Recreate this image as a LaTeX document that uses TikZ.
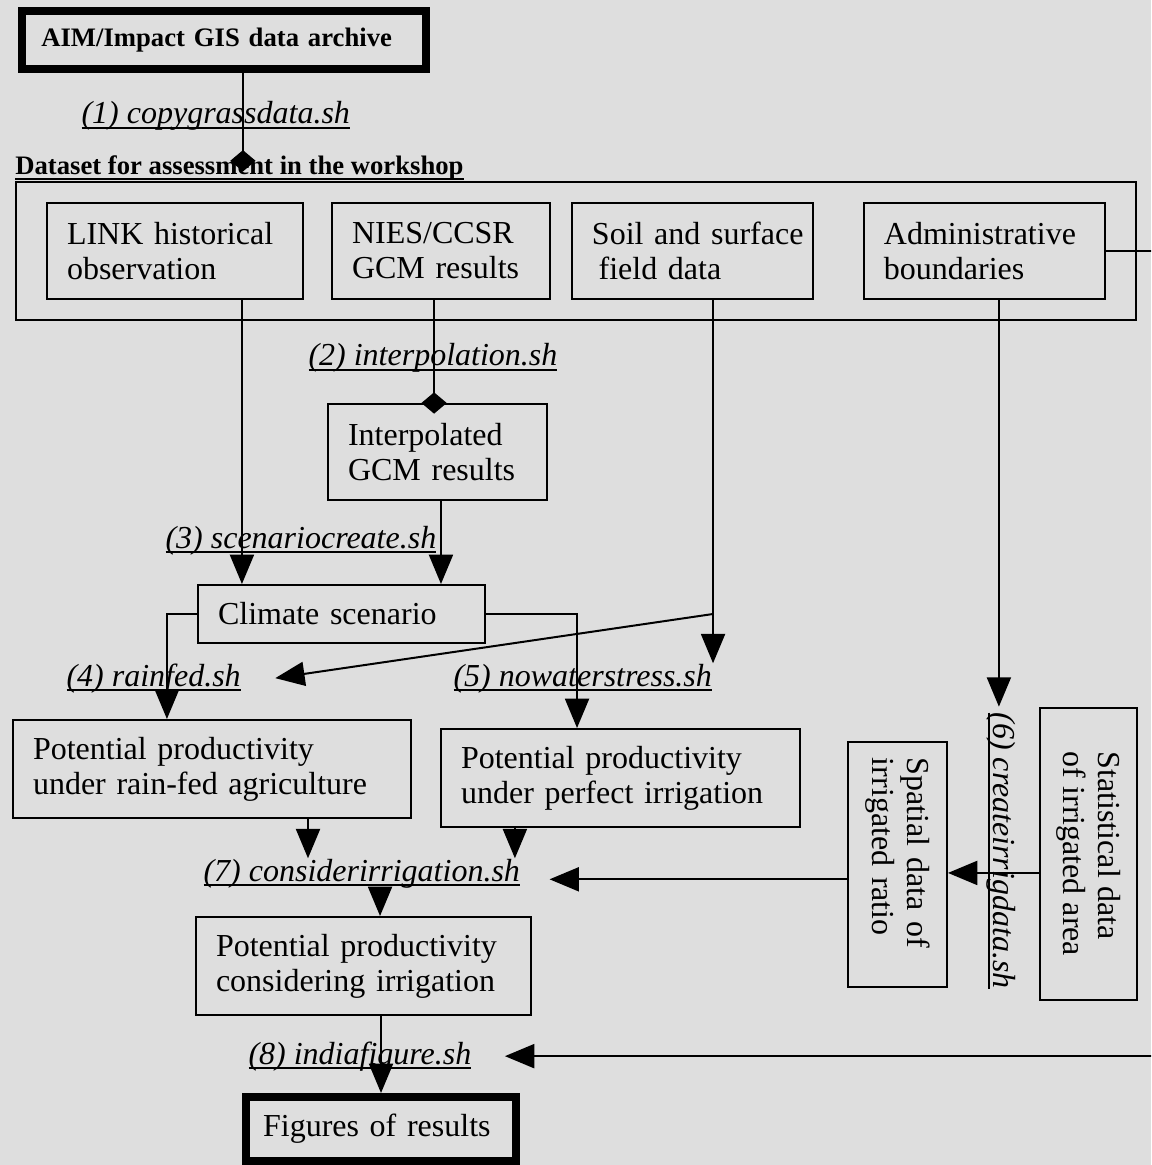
\documentclass[tikz,border=0pt]{standalone}
\usepackage{fontspec}
\setmainfont{Liberation Serif}
\usetikzlibrary{arrows.meta, positioning, fit}
\definecolor{paper}{HTML}{DEDEDE}
\newcommand{\ulname}[1]{\setbox0\hbox{#1}\rlap{\rule[-2pt]{\wd0}{0.75pt}}\box0}

\begin{document}
\begin{tikzpicture}[
    x=0.375pt, y=-0.375pt,
    font=\fontsize{12}{13.1}\selectfont,
    databox/.style={draw, line width=0.75pt, align=left, inner xsep=7.5pt, inner ysep=0pt},
    titlebox/.style={draw, line width=3pt, align=left, inner ysep=0pt},
    shlabel/.style={font=\fontsize{12}{13.1}\selectfont\itshape, inner sep=0pt, anchor=base west},
    arrow/.style={-{Triangle[length=11pt, width=9pt]}, line width=0.75pt},
    link/.style={-{Diamond[length=8pt, width=9.5pt]}, line width=0.75pt, shorten >=-4pt}
  ]
    \useasboundingbox (0,0) rectangle (1151,1165);
    \clip (0,0) rectangle (1151,1165);
    \fill[paper] (0,0) rectangle (1151,1165);

    \node[titlebox, minimum width=151.5pt, minimum height=21.75pt, text width=137pt, inner xsep=7.25pt, font=\fontsize{10}{12}\selectfont\bfseries] (archive) at (224,40) {AIM/Impact GIS data archive};

    \node[databox, minimum width=96pt, minimum height=36pt, text width=81pt] (link) at (175,251) {LINK historical\\observation};
    \node[databox, minimum width=81.75pt, minimum height=36pt, text width=66.75pt] (nies) at (441,251) {NIES/CCSR\\GCM results};
    \node[databox, minimum width=90.4pt, minimum height=36pt, text width=75.4pt] (soil) at (692.5,251) {\mbox{Soil and surface}\\\hspace*{2.5pt}field data};
    \node[databox, minimum width=90.4pt, minimum height=36pt, text width=75.4pt] (admin) at (984.5,251) {Administrative\\boundaries};
    \node[draw, line width=0.75pt, inner xsep=11.3pt, inner ysep=7.5pt, fit=(link)(admin)] (dataset) {};
    \node[above right=0pt and 0pt of dataset.north west, inner sep=0pt, font=\fontsize{10}{12}\selectfont\bfseries] (datasetlbl) {\ulname{Dataset for assessment in the workshop}};

    \node[databox, minimum width=82.1pt, minimum height=36pt, text width=67.1pt] (interp) at (437.5,452) {Interpolated\\GCM results};
    \node[databox, minimum width=107.6pt, minimum height=21.75pt, text width=92.6pt] (climate) at (341.5,614) {Climate scenario};
    \node[databox, minimum width=149.25pt, minimum height=36.75pt, text width=134.25pt] (rain) at (212,769) {Potential productivity\\under rain-fed agriculture};
    \node[databox, minimum width=134.6pt, minimum height=36.75pt, text width=119.6pt] (perfect) at (620.5,778) {Potential productivity\\under perfect irrigation};
    \node[databox, minimum width=125.6pt, minimum height=36.75pt, text width=110.6pt] (consider) at (363.5,966) {Potential productivity\\considering irrigation};
    \node[titlebox, minimum width=101.25pt, minimum height=24pt, text width=88.45pt, inner xsep=6.4pt] (figures) at (381,1129) {Figures of results};

    \node[databox, rotate=-90, minimum width=109.5pt, minimum height=36.4pt, inner xsep=0pt] (stat) at (1088.5,854) {Statistical data\\of irrigated area};
    \node[databox, rotate=-90, minimum width=91.9pt, minimum height=37.1pt, text width=79.9pt, inner xsep=6pt] (spatial) at (897.5,864.5) {Spatial data of\\irrigated ratio};

    % script names
    \node[shlabel] (copysh) at (81,124) {\ulname{(1) copygrassdata.sh}};
    \node[shlabel] (interpsh) at (308,366) {\ulname{(2) interpolation.sh}};
    \node[shlabel] (scensh) at (165,548) {\ulname{(3) scenariocreate.sh}};
    \node[shlabel] (rainsh) at (66,686) {\ulname{(4) rainfed.sh}};
    \node[shlabel] (nowatersh) at (453,686) {\ulname{(5) nowaterstress.sh}};
    \node[shlabel, rotate=-90] (irrigsh) at (993,712) {\ulname{(6) createirrigdata.sh}};
    \node[shlabel] (considersh) at (203,881) {\ulname{(7) considerirrigation.sh}};
    \node[shlabel] (indiash) at (248,1064) {\ulname{(8) indiafigure.sh}};

    \coordinate (in4) at ([xshift=12.75pt]rainsh.east);
    \coordinate (in7) at ([xshift=10.9pt, yshift=-2.25pt]considersh.east);
    \coordinate (in8) at ([xshift=12.4pt]indiash.east);
    \coordinate (s6) at ([yshift=-7.1pt]stat.south);

    \draw[link, shorten >=-6pt] ([xshift=7.1pt]archive.south) -- ([xshift=7.1pt]archive.south |- datasetlbl.north);
    \draw[link] ([xshift=-2.6pt]nies.south) -- ([xshift=-2.6pt]nies.south |- interp.north);

    \draw[arrow] ([xshift=25.1pt]link.south) -- ([xshift=25.1pt]link.south |- climate.north);
    \draw[arrow] ([xshift=1.3pt]interp.south) -- ([xshift=1.3pt]interp.south |- climate.north);
    \draw[arrow] (climate.west) -| ([xshift=-16.9pt]rain.north);
    \draw[arrow] (climate.east) -| ([xshift=-16.3pt]perfect.north);
    \draw[arrow] ([xshift=7.7pt]soil.south) -- ([xshift=7.7pt]soil.south |- nowatersh.north);
    \draw[arrow] ([xshift=7.7pt]soil.south |- climate.east) -- (in4);
    \draw[arrow] ([xshift=36pt]rain.south) -- ([xshift=36pt]rain.south |- considersh.north);
    \draw[arrow] ([xshift=-39.6pt]perfect.south) -- ([xshift=-39.6pt]perfect.south |- considersh.north);
    \draw[arrow] ([xshift=6.2pt]consider.north |- considersh.south) -- ([xshift=6.2pt]consider.north);
    \draw[arrow] (figures.north |- consider.south) -- (figures.north);
    \draw[arrow, shorten >=2pt] ([xshift=5.4pt]admin.south) -- ([xshift=5.4pt]admin.south |- irrigsh.west);
    \draw[arrow] (s6) -- (s6 -| spatial.north);
    \draw[arrow] (spatial.south |- in7) -- (in7);
    \draw[arrow] (admin.east) -- ++(30pt,0) |- (in8);
\end{tikzpicture}
\end{document}
